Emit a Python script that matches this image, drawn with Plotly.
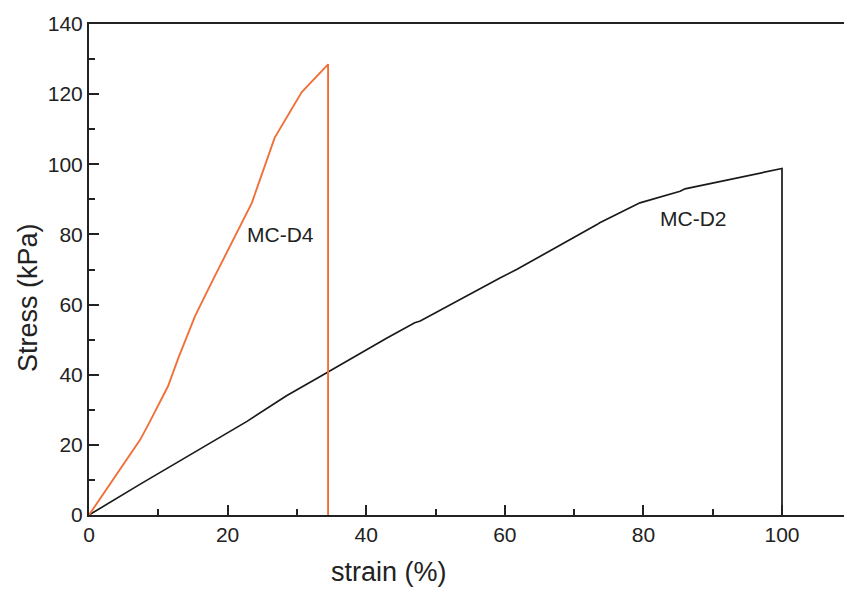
import plotly.graph_objects as go

# MC-D4 (orange) stress-strain data
d4_strain = [0, 7.4, 8.8, 11.4, 12.9, 15.3, 17.9, 22.3, 23.5, 26.8, 27.8, 30.7, 34.5, 34.5]
d4_stress = [0, 21.5, 26.7, 36.7, 44.8, 56.7, 67.1, 84.3, 89.0, 107.6, 110.9, 120.6, 128.5, 0]

# MC-D2 (black) stress-strain data
d2_strain = [0, 7.4, 22.8, 28.5, 33.3, 43.0, 47.0, 47.8, 59.3, 61.7, 73.3, 73.7, 79.5, 85.3, 86.0, 100, 100]
d2_stress = [0, 8.8, 26.7, 34.0, 39.4, 50.5, 54.8, 55.3, 67.6, 70.0, 82.8, 83.3, 89.0, 92.3, 93.0, 98.8, 0]

x_ticks = [0, 20, 40, 60, 80, 100]
y_ticks = [0, 20, 40, 60, 80, 100, 120, 140]

FONT = "Liberation Sans, Arial, sans-serif"

fig = go.Figure()
fig.add_trace(go.Scatter(x=d2_strain, y=d2_stress, mode="lines",
                         line=dict(color="#1a1a1a", width=1.7), name="MC-D2"))
fig.add_trace(go.Scatter(x=d4_strain, y=d4_stress, mode="lines",
                         line=dict(color="#F0703A", width=1.9), name="MC-D4"))

fig.add_annotation(x=27.7, y=80.0, text="MC-D4", showarrow=False,
                   font=dict(family=FONT, size=21, color="#222"))
fig.add_annotation(x=87.3, y=84.6, text="MC-D2", showarrow=False,
                   font=dict(family=FONT, size=21, color="#222"))

# axis titles as annotations (positioned as in the reference)
fig.add_annotation(xref="paper", yref="paper", x=(389 - 89) / 755, y=(515 - 572) / 491,
                   xanchor="center", yanchor="middle",
                   text="strain (%)", showarrow=False,
                   font=dict(family=FONT, size=27, color="#222"))
fig.add_annotation(xref="paper", yref="paper", x=(28 - 89) / 755, y=(515 - 298) / 491,
                   xanchor="center", yanchor="middle",
                   text="Stress (kPa)", showarrow=False, textangle=-90,
                   font=dict(family=FONT, size=27, color="#222"))

fig.update_layout(
    width=844, height=590,
    margin=dict(l=89, r=0, t=24, b=75),
    paper_bgcolor="white", plot_bgcolor="white",
    showlegend=False,
    font=dict(family=FONT, size=21, color="#222"),
    xaxis=dict(range=[0, 755 / 6.93], tickvals=x_ticks, showgrid=False, zeroline=False,
               showline=True, linecolor="#222", linewidth=2, mirror=True,
               ticks="inside", ticklen=10, tickwidth=2, tickcolor="#222",
               minor=dict(dtick=10, ticks="inside", ticklen=6, tickwidth=2, tickcolor="#222"),
               tickfont=dict(family=FONT, size=21, color="#222")),
    yaxis=dict(range=[0, 140], tickvals=y_ticks, showgrid=False, zeroline=False,
               showline=True, linecolor="#222", linewidth=2, mirror=False,
               ticks="inside", ticklen=10, tickwidth=2, tickcolor="#222",
               minor=dict(dtick=10, ticks="inside", ticklen=6, tickwidth=2, tickcolor="#222"),
               tickfont=dict(family=FONT, size=21, color="#222")),
)

fig.write_html("out.html")
